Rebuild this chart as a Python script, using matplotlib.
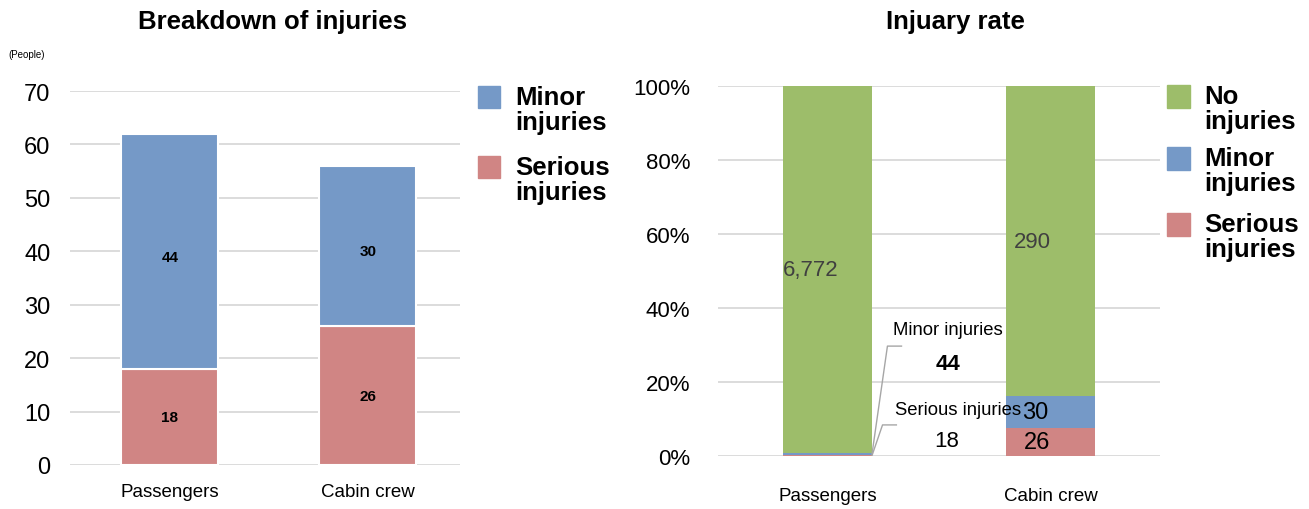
import numpy as np
import matplotlib
matplotlib.use('Agg')
import matplotlib.pyplot as plt
from matplotlib.patches import Rectangle

plt.rcParams['font.family'] = ['Liberation Sans', 'DejaVu Sans']

# data
categories = ['Passengers', 'Cabin crew']
serious = [18, 26]
minor = [44, 30]
no_injury = [6772, 290]

col_minor = '#7599C7'
col_serious = '#D08584'
col_none = '#9DBD6A'
grid_col = '#D9D9D9'

W, H = 1309, 510
fig = plt.figure(figsize=(W / 100, H / 100), dpi=100)


def fx(px):
    return px / W


def fy(py):
    return 1 - py / H


# ---------------- left: breakdown ----------------
ax1 = fig.add_axes([fx(70), fy(466), fx(460) - fx(70), fy(92) - fy(466)])
x = np.arange(len(categories))
ax1.bar(x, serious, width=0.49, color=col_serious, edgecolor='white', linewidth=1.5, zorder=3)
ax1.bar(x, minor, width=0.49, bottom=serious, color=col_minor, edgecolor='white', linewidth=1.5, zorder=3)
for i in range(len(categories)):
    ax1.text(x[i], serious[i] / 2, str(serious[i]), ha='center', va='center',
             fontsize=11, fontweight='bold', zorder=4)
    ax1.text(x[i], serious[i] + minor[i] / 2 - 1, str(minor[i]), ha='center', va='center',
             fontsize=11, fontweight='bold', zorder=4)
ax1.set_xlim(-0.505, 1.465)
ax1.set_ylim(0, 70)
ax1.set_yticks(range(0, 71, 10))
ax1.set_xticks(x)
ax1.set_xticklabels(categories, fontsize=13.5)
ax1.tick_params(axis='y', labelsize=17, length=0, pad=14)
ax1.tick_params(axis='x', length=0, pad=13)
ax1.grid(axis='y', color=grid_col, linewidth=1.3, zorder=0)
for s in ax1.spines.values():
    s.set_visible(False)
fig.text(fx(273), fy(22), 'Breakdown of injuries', ha='center', va='center',
         fontsize=18.5, fontweight='bold')
fig.text(fx(8), fy(55), '(People)', ha='left', va='center', fontsize=7)

# left legend
for (py, lab, c) in [(87, 'Minor\ninjuries', col_minor), (157, 'Serious\ninjuries', col_serious)]:
    fig.patches.append(Rectangle((fx(478), fy(py + 22)), fx(22), fy(0) - fy(22),
                                 transform=fig.transFigure, color=c, figure=fig))
    fig.text(fx(515), fy(py - 1), lab, ha='left', va='top', fontsize=18.5,
             fontweight='bold', linespacing=1.05)

# ---------------- right: rate ----------------
ax2 = fig.add_axes([fx(718), fy(457), fx(1160) - fx(718), fy(87) - fy(457)])
totals = np.array(serious) + np.array(minor) + np.array(no_injury)
p_ser = np.array(serious) / totals * 100
p_min = np.array(minor) / totals * 100
p_non = np.array(no_injury) / totals * 100
ax2.bar(x, p_ser, width=0.40, color=col_serious, zorder=3)
ax2.bar(x, p_min, width=0.40, bottom=p_ser, color=col_minor, zorder=3)
ax2.bar(x, p_non, width=0.40, bottom=p_ser + p_min, color=col_none, zorder=3)
ax2.set_xlim(-0.49, 1.49)
ax2.set_ylim(0, 100)
ax2.set_yticks(range(0, 101, 20))
ax2.set_yticklabels([f'{v}%' for v in range(0, 101, 20)])
ax2.set_xticks(x)
ax2.set_xticklabels(categories, fontsize=13.5)
ax2.tick_params(axis='y', labelsize=16, length=0, pad=20)
ax2.tick_params(axis='x', length=0, pad=22)
ax2.grid(axis='y', color=grid_col, linewidth=1.3, zorder=0)
for s in ax2.spines.values():
    s.set_visible(False)

# labels on green segments
ax2.text(x[0] - 0.075, p_ser[0] + p_min[0] + p_non[0] / 2, f'{no_injury[0]:,}', ha='center',
         va='center', fontsize=16, color='#404040', zorder=4)
ax2.text(x[1] - 0.08, p_ser[1] + p_min[1] + p_non[1] / 2, f'{no_injury[1]:,}', ha='center',
         va='center', fontsize=16, color='#404040', zorder=4)
# cabin crew small segments
ax2.text(x[1] - 0.07, p_ser[1] + p_min[1] / 2, str(minor[1]), ha='center', va='center',
         fontsize=17, zorder=4)
ax2.text(x[1] - 0.06, p_ser[1] / 2, str(serious[1]), ha='center', va='center',
         fontsize=17, zorder=4)

# passenger callouts
edge = x[0] + 0.20
ax2.plot([edge, 0.269, 0.332], [p_ser[0] + p_min[0] / 2, 29.7, 29.7], color='#A6A6A6', lw=1, zorder=5)
ax2.plot([edge, 0.247, 0.309], [p_ser[0] / 2, 8.4, 8.4], color='#A6A6A6', lw=1, zorder=5)
ax2.text(0.54, 34.3, 'Minor injuries', ha='center', va='center', fontsize=13.3, zorder=5)
ax2.text(0.54, 25.0, str(minor[0]), ha='center', va='center', fontsize=16, fontweight='bold', zorder=5)
ax2.text(0.585, 12.7, 'Serious injuries', ha='center', va='center', fontsize=13.3, zorder=5)
ax2.text(0.535, 4.3, str(serious[0]), ha='center', va='center', fontsize=16, zorder=5)

fig.text(fx(955), fy(22), 'Injuary rate', ha='center', va='center', fontsize=18.5, fontweight='bold')

# right legend
for (py, lab, c) in [(86, 'No\ninjuries', col_none), (148, 'Minor\ninjuries', col_minor),
                     (214, 'Serious\ninjuries', col_serious)]:
    fig.patches.append(Rectangle((fx(1167), fy(py + 23)), fx(23), fy(0) - fy(23),
                                 transform=fig.transFigure, color=c, figure=fig))
    fig.text(fx(1204), fy(py - 1), lab, ha='left', va='top', fontsize=18.5,
             fontweight='bold', linespacing=1.05)

fig.savefig('out.png', dpi=100)
